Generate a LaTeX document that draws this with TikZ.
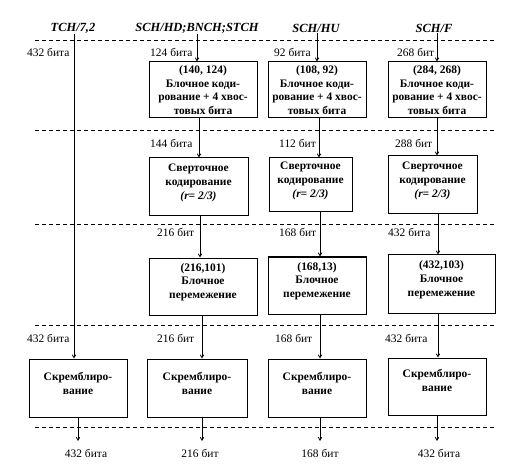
\documentclass[tikz,border=0pt]{standalone}
\usepackage{fontspec}
\setmainfont{Liberation Serif}
\usetikzlibrary{arrows.meta}
\begin{document}
\begin{tikzpicture}[x=1bp,y=-1bp,
  box/.style={draw,line width=1bp,align=center,inner sep=1bp,font=\bfseries\fontsize{11.5}{13.8}\selectfont},
  hdr/.style={font=\bfseries\itshape\fontsize{12.5}{14}\selectfont,inner sep=1bp},
  lbl/.style={font=\fontsize{11.5}{12}\selectfont,inner sep=0pt,anchor=west},
  olbl/.style={font=\fontsize{11.5}{12}\selectfont,inner sep=0pt},
  sep/.style={dashed,dash pattern=on 4bp off 3bp,line width=0.7bp},
  arr/.style={line width=0.8bp,-{Straight Barb[length=3bp,width=3.5bp]}}]
\useasboundingbox (0,0) rectangle (515,467);
% headers
\node[hdr] (h1) at (73,28) {TCH/7,2};
\node[hdr] (h2) at (197,28) {SCH/HD;BNCH;STCH};
\node[hdr] (h3) at (316,28) {SCH/HU};
\node[hdr] (h4) at (434,28) {SCH/F};
% dashed separators
\foreach \yy in {40,130,224,325,427} \draw[sep] (35,\yy) -- (497,\yy);
% row 1
\node[box,minimum width=108bp,minimum height=56bp] (b2) at (203,90) {(140, 124)\\Блочное коди-\\рование + 4 хвос-\\товых бита};
\node[box,minimum width=98bp,minimum height=56bp] (b3) at (317,90) {(108, 92)\\Блочное коди-\\рование + 4 хвос-\\товых бита};
\node[box,minimum width=98bp,minimum height=56bp] (b4) at (437,90) {(284, 268)\\Блочное коди-\\рование + 4 хвос-\\товых бита};
% row 2
\node[box,text depth=11bp,minimum width=99bp,minimum height=58bp] (c2) at (198.5,187) {Сверточное\\кодирование\\\textit{(r= 2/3)}};
\node[box,text depth=11bp,minimum width=83bp,minimum height=54bp] (c3) at (310.5,185) {Сверточное\\кодирование\\\textit{(r= 2/3)}};
\node[box,text depth=11bp,minimum width=89bp,minimum height=58bp] (c4) at (432.5,185) {Сверточное\\кодирование\\\textit{(r= 2/3)}};
% row 3
\node[box,text depth=11bp,minimum width=108bp,minimum height=57bp] (i2) at (203,286.5) {(216,101)\\Блочное\\перемежение};
\node[box,text depth=11bp,minimum width=98bp,minimum height=57bp] (i3) at (317,285.5) {(168,13)\\Блочное\\перемежение};
\node[box,text depth=11bp,minimum width=107bp,minimum height=58bp] (i4) at (441.5,284) {(432,103)\\Блочное\\перемежение};
% row 4
\node[box,text depth=9bp,minimum width=98bp,minimum height=58bp] (s1) at (78,388) {Скремблиро-\\вание};
\node[box,text depth=9bp,minimum width=100bp,minimum height=58bp] (s2) at (197,388) {Скремблиро-\\вание};
\node[box,text depth=9bp,minimum width=98bp,minimum height=58bp] (s3) at (317,388) {Скремблиро-\\вание};
\node[box,text depth=12bp,minimum width=98bp,minimum height=57bp] (s4) at (437,386.5) {Скремблиро-\\вание};
% labels
\node[lbl] (l11) at (27,52) {432 бита};
\node[lbl] (l12) at (150,52) {124 бита};
\node[lbl] (l13) at (274,52) {92 бита};
\node[lbl] (l14) at (397,52) {268 бит};
\node[lbl] (l22) at (150,143) {144 бита};
\node[lbl] (l23) at (279,143) {112 бит};
\node[lbl] (l24) at (395,143) {288 бит};
\node[lbl] (l32) at (157,232) {216 бит};
\node[lbl] (l33) at (279,232) {168 бит};
\node[lbl] (l34) at (388,232) {432 бита};
\node[lbl] (l41) at (27,338) {432 бита};
\node[lbl] (l42) at (157,338) {216 бит};
\node[lbl] (l43) at (275,338) {168 бит};
\node[lbl] (l44) at (385,338) {432 бита};
\node[olbl] (o1) at (86,453) {432 бита};
\node[olbl] (o2) at (200,453) {216 бит};
\node[olbl] (o3) at (320,453) {168 бит};
\node[olbl] (o4) at (439,453) {432 бита};
\coordinate (e1) at (78,441);
\coordinate (e2) at (202,441);
\coordinate (e3) at (320,441);
\coordinate (e4) at (437,441);
% connectors
\draw[arr] ([xshift=1bp]h1.south) -- ([xshift=1bp]h1.south |- s1.north);
\draw[arr] (h2.south) -- (h2.south |- b2.north);
\draw[arr] ([xshift=1bp]h3.south) -- ([xshift=1bp]h3.south |- b3.north);
\draw[arr] ([xshift=3bp]h4.south) -- ([xshift=3bp]h4.south |- b4.north);
\draw[arr] ([xshift=-4bp]b2.south) -- ([xshift=-4bp]b2.south |- c2.north);
\draw[arr] ([xshift=2bp]b3.south) -- ([xshift=2bp]b3.south |- c3.north);
\draw[arr] (b4.south) -- (b4.south |- c4.north);
\draw[arr] ([xshift=1.5bp]c2.south) -- ([xshift=1.5bp]c2.south |- i2.north);
\draw[arr] ([xshift=9.5bp]c3.south) -- ([xshift=9.5bp]c3.south |- i3.north);
\draw[arr] ([xshift=5.5bp]c4.south) -- ([xshift=5.5bp]c4.south |- i4.north);
\draw[arr] ([xshift=-1bp]i2.south) -- ([xshift=-1bp]i2.south |- s2.north);
\draw[arr] ([xshift=3bp]i3.south) -- ([xshift=3bp]i3.south |- s3.north);
\draw[arr] ([xshift=-3.5bp]i4.south) -- ([xshift=-3.5bp]i4.south |- s4.north);
\draw[arr] (s1.south -| e1) -- (e1);
\draw[arr] (s2.south -| e2) -- (e2);
\draw[arr] (s3.south -| e3) -- (e3);
\draw[arr] (s4.south -| e4) -- (e4);
\end{tikzpicture}
\end{document}
